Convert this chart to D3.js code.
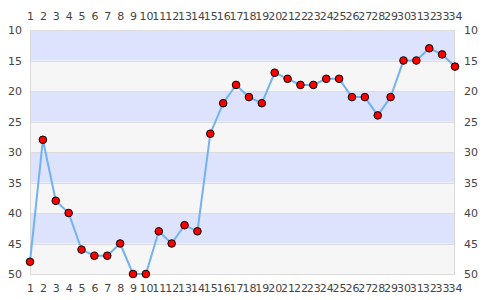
<!DOCTYPE html>
<html>
<head>
<meta charset="utf-8">
<script src="https://cdn.jsdelivr.net/npm/d3@7"></script>
<style>
  body { margin: 0; background: #fff; }
  svg text { font-family: "DejaVu Sans", sans-serif; font-size: 11px; fill: #444; }
</style>
</head>
<body>
<div id="chart"></div>
<script>
// data
var categories = d3.range(1, 35);
var values = [48, 28, 38, 40, 46, 47, 47, 45, 50, 50,
              43, 45, 42, 43, 27, 22, 19, 21, 22, 17,
              18, 19, 19, 18, 18, 21, 21, 24, 21, 15,
              15, 13, 14, 16];
var yTicks = [10, 15, 20, 25, 30, 35, 40, 45, 50];
var bands = [[10, 15], [20, 25], [30, 35], [40, 45]];

var width = 485, height = 300;
var margin = {top: 30, right: 30, bottom: 26, left: 30};
var w = width - margin.left - margin.right;
var h = height - margin.top - margin.bottom;

var svg = d3.select('#chart').append('svg')
  .attr('width', width)
  .attr('height', height);

var g = svg.append('g')
  .attr('transform', 'translate(' + margin.left + ',' + margin.top + ')');

var x = d3.scalePoint().domain(categories).range([0, w]);
var y = d3.scaleLinear().domain([10, 50]).range([0, h]);

// background
g.append('rect')
  .attr('width', w).attr('height', h)
  .attr('fill', '#f6f6f6');

g.selectAll('.band')
  .data(bands)
.enter().append('rect')
  .attr('class', 'band')
  .attr('x', 0)
  .attr('width', w)
  .attr('y', function(d) { return y(d[0]); })
  .attr('height', function(d) { return y(d[1]) - y(d[0]); })
  .attr('fill', '#dde3fd');

// grid lines
g.selectAll('.grid')
  .data(yTicks)
.enter().append('line')
  .attr('class', 'grid')
  .attr('x1', 0).attr('x2', w)
  .attr('y1', function(d) { return Math.round(y(d)) + 0.5; })
  .attr('y2', function(d) { return Math.round(y(d)) + 0.5; })
  .attr('stroke', '#dcdcdc');

g.append('line')
  .attr('x1', 0.5).attr('x2', 0.5)
  .attr('y1', 0).attr('y2', h)
  .attr('stroke', '#d8d8d8');
g.append('line')
  .attr('x1', w - 0.5).attr('x2', w - 0.5)
  .attr('y1', 0).attr('y2', h)
  .attr('stroke', '#d8d8d8');

// axes
var styleAxis = function(sel) {
  sel.select('.domain').remove();
  sel.selectAll('.tick line').remove();
  sel.selectAll('text').attr('fill', '#444').style('font-size', '11px');
};

g.append('g')
  .call(d3.axisLeft(y).tickValues(yTicks).tickSize(0).tickPadding(8))
  .call(styleAxis);

g.append('g')
  .attr('transform', 'translate(' + w + ',0)')
  .call(d3.axisRight(y).tickValues(yTicks).tickSize(0).tickPadding(9))
  .call(styleAxis);

g.append('g')
  .call(d3.axisTop(x).tickSize(0).tickPadding(10))
  .call(styleAxis);

g.append('g')
  .attr('transform', 'translate(0,' + h + ')')
  .call(d3.axisBottom(x).tickSize(0).tickPadding(10))
  .call(styleAxis);

// line
var line = d3.line()
  .x(function(d, i) { return x(categories[i]); })
  .y(function(d) { return y(d); });

g.append('path')
  .datum(values)
  .attr('fill', 'none')
  .attr('stroke', '#72b2f3')
  .attr('stroke-width', 2)
  .attr('d', line);

// markers
g.selectAll('.dot')
  .data(values)
.enter().append('circle')
  .attr('class', 'dot')
  .attr('cx', function(d, i) { return x(categories[i]); })
  .attr('cy', function(d) { return y(d); })
  .attr('r', 3.8)
  .attr('fill', '#ff0000')
  .attr('stroke', '#000')
  .attr('stroke-width', 1);
</script>
</body>
</html>
